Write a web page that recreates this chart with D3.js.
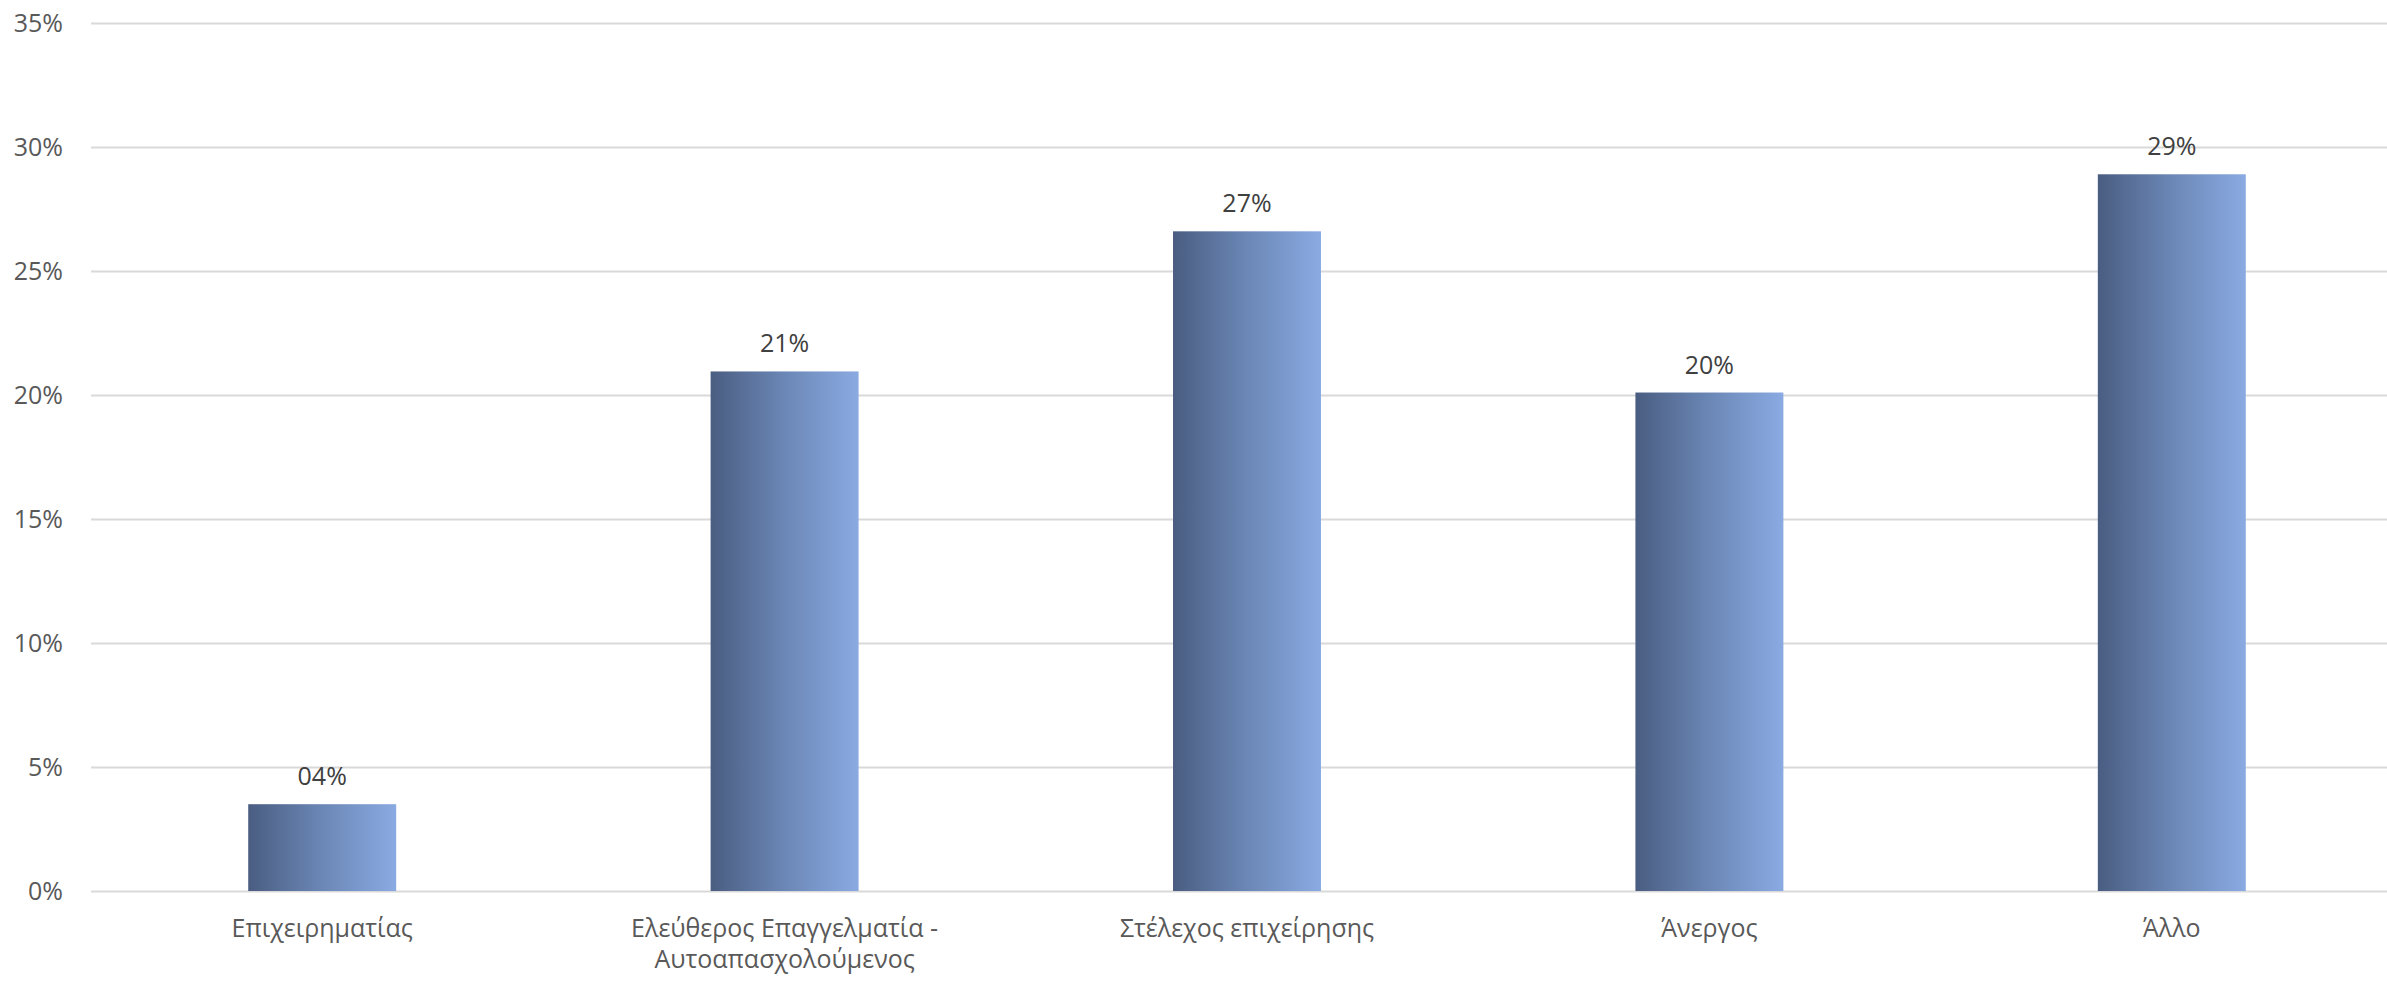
<!DOCTYPE html>
<html>
<head>
<meta charset="utf-8">
<script src="https://cdn.jsdelivr.net/npm/d3@7"></script>
<style>
  html, body { margin: 0; padding: 0; background: #ffffff; }
  svg { display: block; }
  text { font-family: "Open Sans", "Noto Sans", sans-serif; }
</style>
</head>
<body>
<svg id="chart" width="2387" height="981"></svg>
<script>
const categories = [
  ["Επιχειρηματίας"],
  ["Ελεύθερος Επαγγελματία -", "Αυτοαπασχολούμενος"],
  ["Στέλεχος επιχείρησης"],
  ["Άνεργος"],
  ["Άλλο"]
];
const values = [3.5, 20.95, 26.6, 20.1, 28.9];
const valueLabels = ["04%", "21%", "27%", "20%", "29%"];
const yTicks = [0, 5, 10, 15, 20, 25, 30, 35];

const svg = d3.select("#chart");
const W = 2387, H = 981;
const plotLeft = 91, plotRight = 2403, plotTop = 23, plotBottom = 891;

const x = d3.scaleBand().domain(d3.range(categories.length)).range([plotLeft, plotRight]).padding(0);
const y = d3.scaleLinear().domain([0, 35]).range([plotBottom, plotTop]);

const defs = svg.append("defs");
const grad = defs.append("linearGradient").attr("id", "barGrad")
  .attr("x1", "0%").attr("x2", "100%").attr("y1", "0%").attr("y2", "0%");
grad.append("stop").attr("offset", "0%").attr("stop-color", "#4a5d81");
grad.append("stop").attr("offset", "50%").attr("stop-color", "#6b87b6");
grad.append("stop").attr("offset", "100%").attr("stop-color", "#8aaae2");

// gridlines
const yAxis = d3.axisLeft(y).tickValues(yTicks).tickSize(-(plotRight - plotLeft)).tickFormat(d => d + "%").tickPadding(28);
const gAxis = svg.append("g").attr("transform", `translate(${plotLeft},0)`).call(yAxis);
gAxis.select(".domain").remove();
gAxis.selectAll(".tick line").attr("stroke", "#d9d9d9").attr("stroke-width", 2);
gAxis.selectAll(".tick text").attr("fill", "#595959").attr("font-size", 25)
  .attr("font-family", "'Open Sans', sans-serif");

// bars
const barW = x.bandwidth() * 0.32;
svg.append("g").selectAll("rect").data(values).join("rect")
  .attr("x", (d, i) => x(i) + x.bandwidth() / 2 - barW / 2)
  .attr("y", d => y(d))
  .attr("width", barW)
  .attr("height", d => y(0) - y(d))
  .attr("fill", "url(#barGrad)");

// value labels
svg.append("g").selectAll("text").data(values).join("text")
  .attr("x", (d, i) => x(i) + x.bandwidth() / 2)
  .attr("y", d => y(d) - 19)
  .attr("text-anchor", "middle")
  .attr("fill", "#404040")
  .attr("font-size", 25)
  .text((d, i) => valueLabels[i]);

// category labels
const catG = svg.append("g");
categories.forEach((lines, i) => {
  const t = catG.append("text")
    .attr("x", x(i) + x.bandwidth() / 2)
    .attr("y", 937)
    .attr("text-anchor", "middle")
    .attr("fill", "#595959")
    .attr("font-size", 25);
  lines.forEach((ln, j) => {
    t.append("tspan").attr("x", x(i) + x.bandwidth() / 2).attr("dy", j === 0 ? 0 : 31).text(ln);
  });
});
</script>
</body>
</html>
